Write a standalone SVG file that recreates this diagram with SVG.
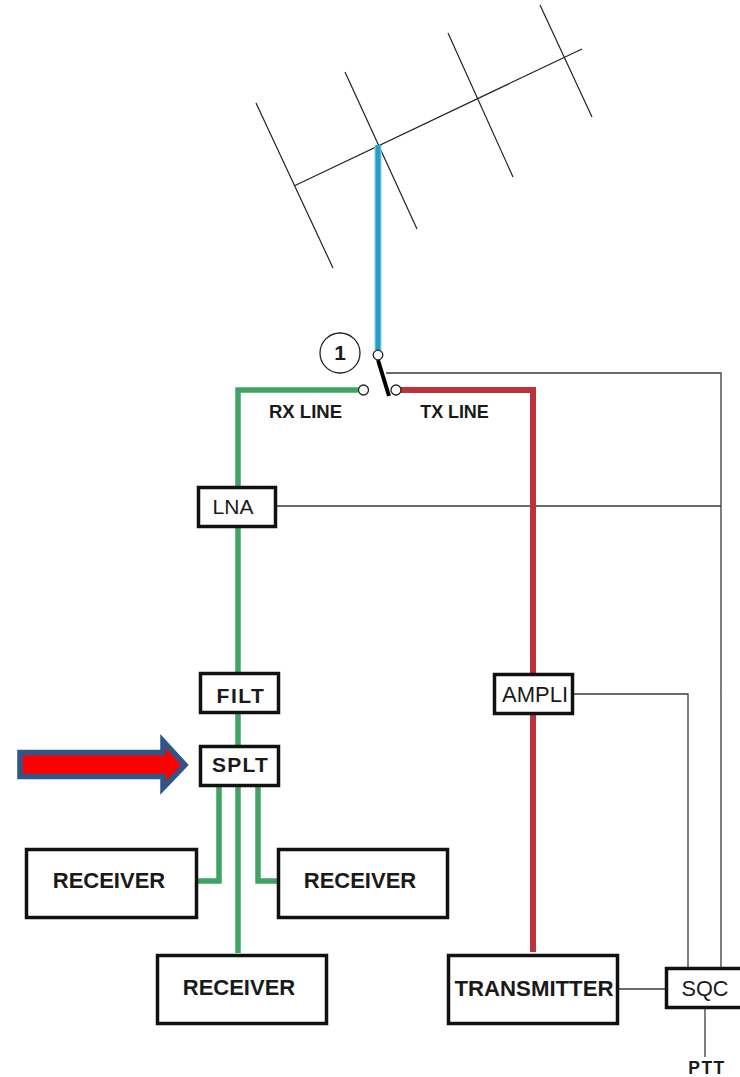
<svg xmlns="http://www.w3.org/2000/svg" width="740" height="1077" viewBox="0 0 740 1077">
<style>
text{font-family:"Liberation Sans",Arial,sans-serif;fill:#1a1a1a;text-anchor:middle}
.b{font-weight:bold}
.box{fill:#fff;stroke:#111;stroke-width:3.5}
.thin{fill:none;stroke:#3a3a3a;stroke-width:1.3}
.ant{fill:none;stroke:#222;stroke-width:1.2}
.g{fill:none;stroke:#3fa463;stroke-width:5.5}
.r{fill:none;stroke:#bd3139;stroke-width:6}
.pin{fill:#fff;stroke:#222;stroke-width:1.3}
</style>
<rect width="740" height="1077" fill="#fff"/>
<g id="antenna">
<path class="ant" d="M294 186L582 49M256 103L333 268M345 72L417 229M448 33L513 177M540 5L592 117"/>
</g>
<g id="connectors">
<path class="thin" d="M386 373H721V968M276 506H721M573 694H688V968M618 989H666M705 1008V1057"/>
<path d="M378 145V350" fill="none" stroke="#7fdcec" stroke-width="7"/>
<path d="M378 145V350" fill="none" stroke="#2b9cc2" stroke-width="5"/>
<path class="g" d="M358 390H238V488M238 527V673M238 713V746M219 786V881H197M238 786V953M258 786V881H281"/>
<path class="r" d="M400 390H533V674M533 714V952"/>
<path d="M378 360L389 396" fill="none" stroke="#000" stroke-width="4"/>
</g>
<g id="switch">
<circle class="pin" cx="378" cy="355" r="4.8"/>
<circle class="pin" cx="363.500" cy="390" r="5"/>
<circle class="pin" cx="396" cy="390" r="5"/>
</g>
<g id="marker-1">
<circle cx="340" cy="353" r="20" fill="#fff" stroke="#222" stroke-width="1.3"/>
<text class="b" x="340" y="360" font-size="21">1</text>
</g>
<g id="rx-label"><text class="b" x="305.500" y="418" font-size="18.500">RX LINE</text></g>
<g id="tx-label"><text class="b" x="454.500" y="418" font-size="18" letter-spacing="-.1">TX LINE</text></g>
<g id="lna"><rect class="box" x="198.500" y="487.500" width="77" height="39"/><text x="233" y="514" font-size="21">LNA</text></g>
<g id="filt"><rect class="box" x="200.500" y="673.500" width="78" height="39"/><text class="b" x="241" y="703" font-size="21" letter-spacing="1.500">FILT</text></g>
<g id="splt"><rect class="box" x="200.500" y="746.500" width="78" height="39"/><text class="b" x="240.500" y="772" font-size="21" letter-spacing="1.200">SPLT</text></g>
<g id="ampli"><rect class="box" x="494.500" y="674.500" width="78" height="39"/><text x="535" y="702" font-size="22">AMPLI</text></g>
<g id="receiver-left"><rect class="box" x="26.500" y="849.500" width="170" height="68"/><text class="b" x="109" y="888" font-size="22">RECEIVER</text></g>
<g id="receiver-right"><rect class="box" x="278.500" y="849.500" width="169" height="68"/><text class="b" x="360" y="888" font-size="22">RECEIVER</text></g>
<g id="receiver-bottom"><rect class="box" x="157.500" y="955.500" width="169" height="68"/><text class="b" x="239" y="995" font-size="22">RECEIVER</text></g>
<g id="transmitter"><rect class="box" x="448.500" y="955.500" width="169" height="68"/><text class="b" x="534" y="996" font-size="22" textLength="159" lengthAdjust="spacingAndGlyphs">TRANSMITTER</text></g>
<g id="sqc"><rect class="box" x="666.500" y="968.500" width="78" height="39"/><text x="705" y="996" font-size="21.700">SQC</text></g>
<g id="ptt"><text class="b" x="707" y="1074" font-size="17.500" letter-spacing="1.500">PTT</text></g>
<g id="arrow"><polygon points="20,752.500 163,752.500 163,741 185,765 163,788 163,776.500 20,776.500" fill="#ff0000" stroke="#2f5589" stroke-width="5.500"/></g>
</svg>
